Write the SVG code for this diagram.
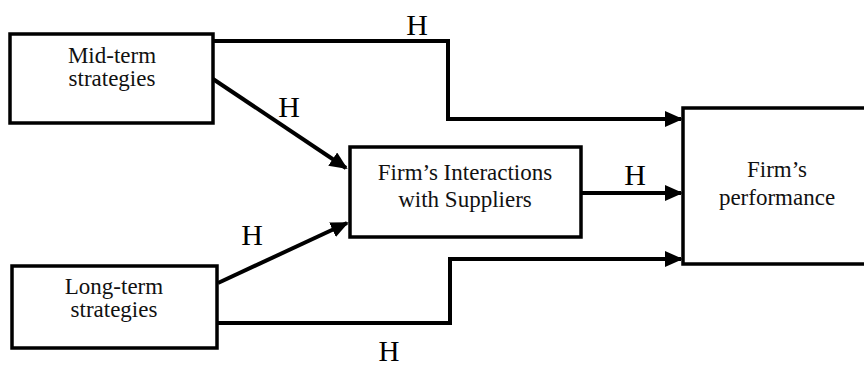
<svg xmlns="http://www.w3.org/2000/svg" width="864" height="368" viewBox="0 0 864 368">
<style>
.box{fill:#fff;stroke:#000;stroke-width:3.5}
text{font-family:'Liberation Serif','DejaVu Serif',serif}
.t{font-size:23px;fill:#111;text-anchor:middle}
.h{font-size:30px;fill:#000;text-anchor:middle}
.c{fill:none;stroke:#000;stroke-width:4;marker-end:url(#ah)}
</style>
<defs>
<marker id="ah" markerUnits="userSpaceOnUse" markerWidth="18" markerHeight="16" refX="16" refY="8" orient="auto">
<path d="M0,0 L18,8 L0,16 z" fill="#000"/>
</marker>
</defs>
<rect x="0" y="0" width="864" height="368" fill="#fff"/>
<g id="connectors">
<path class="c" d="M213,41 H448 V119 H681"/>
<path class="c" d="M213,79 L346,168"/>
<path class="c" d="M218,283 L347,223"/>
<path class="c" d="M581,193 H681"/>
<path class="c" d="M217,323 H450 V259 H681"/>
<text class="h" x="417" y="35" font-family="Liberation Serif, serif">H</text>
<text class="h" x="289" y="117" font-family="Liberation Serif, serif">H</text>
<text class="h" x="252" y="245" font-family="Liberation Serif, serif">H</text>
<text class="h" x="635" y="185" font-family="Liberation Serif, serif">H</text>
<text class="h" x="389" y="361" font-size="29" style="font-size:29px" font-family="Liberation Serif, serif">H</text>
</g>
<g id="mid">
<rect class="box" x="10" y="34" width="203" height="89"/>
<text class="t" x="112" y="63" font-family="Liberation Serif, serif">Mid-term</text>
<text class="t" x="112" y="86" font-family="Liberation Serif, serif">strategies</text>
</g>
<g id="long">
<rect class="box" x="12" y="266" width="205" height="82"/>
<text class="t" x="114" y="294" font-family="Liberation Serif, serif">Long-term</text>
<text class="t" x="114" y="317" font-family="Liberation Serif, serif">strategies</text>
</g>
<g id="firm">
<rect class="box" x="350" y="147" width="231" height="90"/>
<text class="t" x="465" y="180" font-family="Liberation Serif, serif">Firm’s Interactions</text>
<text class="t" x="465" y="207" font-family="Liberation Serif, serif">with Suppliers</text>
</g>
<g id="perf">
<rect class="box" x="683" y="108" width="184" height="156"/>
<text class="t" x="777" y="177" font-family="Liberation Serif, serif">Firm’s</text>
<text class="t" x="777" y="205" font-family="Liberation Serif, serif">performance</text>
</g>
</svg>
